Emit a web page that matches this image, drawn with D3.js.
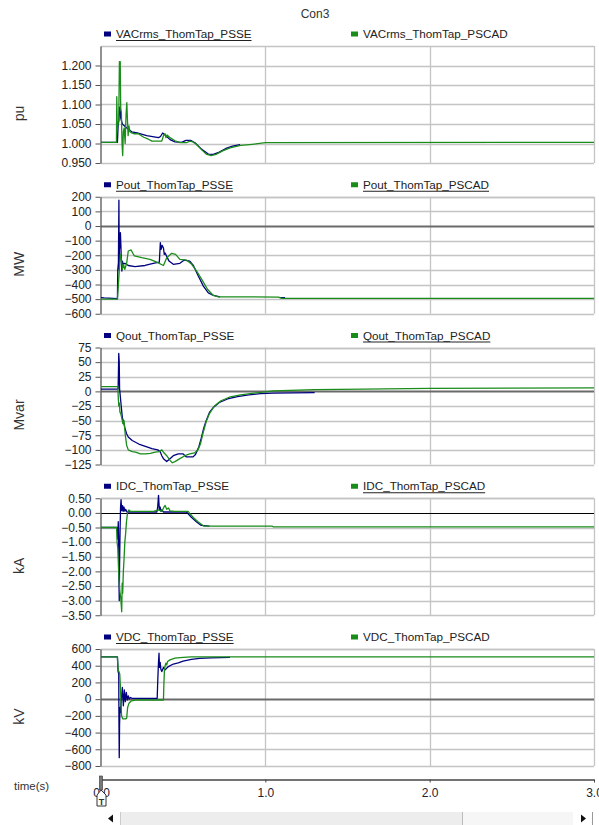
<!DOCTYPE html>
<html>
<head>
<meta charset="utf-8">
<script src="https://cdn.jsdelivr.net/npm/d3@7"></script>
<style>
  body { margin: 0; background: #fff; }
  svg { display: block; font-family: "Liberation Sans", Arial, sans-serif; }
</style>
</head>
<body>
<svg id="chart" width="599" height="825"></svg>
<script>
// ---- time axis ----
const timeTicks = [0, 1, 2, 3];

// ---- VACrms (pu) ----
const vacTicks = [0.95, 1.0, 1.05, 1.1, 1.15, 1.2];
const vacPSSE = [[0,1.003],[0.1,1.003],[0.104,1.045],[0.109,1.06],[0.113,1.093],[0.117,1.085],[0.12,1.065],[0.13,1.05],[0.157,1.04],[0.187,1.03],[0.22,1.027],[0.278,1.02],[0.35,1.015],[0.362,1.018],[0.375,1.027],[0.395,1.02],[0.42,1.01],[0.45,1.004],[0.49,1.003],[0.517,1.008],[0.545,1.008],[0.572,1.002],[0.613,0.985],[0.653,0.973],[0.684,0.972],[0.72,0.978],[0.765,0.988],[0.8,0.993],[0.846,0.997]];
const vacPSCAD = [[0,1.003],[0.094,1.003],[0.096,1.12],[0.099,1.04],[0.104,1.05],[0.108,1.06],[0.112,1.21],[0.117,1.21],[0.12,1.09],[0.124,1.08],[0.128,1.0],[0.132,0.969],[0.136,1.03],[0.141,1.04],[0.147,1.0],[0.152,1.07],[0.157,1.105],[0.161,1.06],[0.165,1.02],[0.17,1.045],[0.176,1.03],[0.186,1.027],[0.2,1.025],[0.227,1.025],[0.26,1.016],[0.288,1.011],[0.31,1.006],[0.37,1.006],[0.38,1.02],[0.39,1.025],[0.395,1.015],[0.402,1.022],[0.42,1.015],[0.45,1.007],[0.48,1.002],[0.52,1.002],[0.54,1.006],[0.56,1.004],[0.58,0.998],[0.61,0.985],[0.64,0.973],[0.67,0.969],[0.7,0.972],[0.74,0.981],[0.785,0.989],[0.85,0.995],[0.92,0.998],[1.0,1.002],[3.0,1.003]];

// ---- Pout (MW) ----
const poutTicks = [-600, -500, -400, -300, -200, -100, 0, 100, 200];
const poutPSSE = [[0,-490],[0.02,-492],[0.1,-497],[0.102,-300],[0.106,-250],[0.109,176],[0.111,-300],[0.113,-60],[0.116,-150],[0.118,-45],[0.121,-130],[0.124,-245],[0.127,-308],[0.13,-240],[0.136,-262],[0.145,-255],[0.166,-270],[0.207,-278],[0.268,-270],[0.318,-255],[0.355,-247],[0.361,-114],[0.366,-160],[0.372,-132],[0.38,-150],[0.385,-194],[0.39,-185],[0.414,-240],[0.44,-262],[0.48,-255],[0.507,-233],[0.54,-240],[0.562,-270],[0.592,-342],[0.623,-411],[0.653,-457],[0.684,-475],[0.724,-484],[0.73,null],[1.09,-490],[1.12,-490]];
const poutPSCAD = [[0,-500],[0.1,-500],[0.104,-434],[0.111,-308],[0.118,-194],[0.124,-228],[0.13,-297],[0.137,-262],[0.145,-297],[0.156,-255],[0.166,-171],[0.183,-164],[0.203,-205],[0.248,-217],[0.298,-228],[0.339,-247],[0.38,-270],[0.4,-217],[0.43,-187],[0.454,-194],[0.48,-228],[0.52,-233],[0.552,-262],[0.582,-308],[0.613,-365],[0.649,-434],[0.684,-475],[0.714,-484],[1.08,-486],[1.1,-495],[3.0,-495]];

// ---- Qout (Mvar) ----
const qoutTicks = [-125, -100, -75, -50, -25, 0, 25, 50, 75];
const qoutPSSE = [[0,4],[0.104,4],[0.106,30],[0.108,65],[0.111,50],[0.113,5],[0.118,-10],[0.124,-28],[0.13,-45],[0.137,-52],[0.145,-62],[0.155,-72],[0.166,-78],[0.19,-84],[0.23,-90],[0.27,-94],[0.31,-98],[0.345,-100],[0.36,-103],[0.37,-110],[0.38,-115],[0.4,-120],[0.42,-115],[0.44,-110],[0.47,-107],[0.5,-107],[0.52,-112],[0.56,-112],[0.575,-108],[0.595,-95],[0.61,-80],[0.625,-63],[0.64,-50],[0.66,-36],[0.685,-27],[0.72,-19],[0.77,-13],[0.83,-9],[0.9,-6],[0.97,-4],[1.05,-3],[1.3,-2]];
const qoutPSCAD = [[0,8],[0.102,8],[0.105,-10],[0.108,-25],[0.112,-20],[0.115,-35],[0.12,-38],[0.126,-45],[0.133,-55],[0.14,-50],[0.148,-75],[0.156,-92],[0.166,-100],[0.19,-103],[0.21,-104],[0.24,-107],[0.27,-107],[0.3,-106],[0.33,-104],[0.355,-103],[0.37,-100],[0.38,-104],[0.4,-110],[0.42,-118],[0.434,-122],[0.45,-120],[0.48,-115],[0.51,-110],[0.54,-107],[0.57,-105],[0.59,-100],[0.605,-90],[0.62,-72],[0.64,-52],[0.66,-38],[0.69,-25],[0.73,-16],[0.78,-10],[0.85,-6],[0.93,-3],[1.0,-1],[1.05,1],[1.3,3],[1.6,4],[2.0,5],[3.0,6]];

// ---- IDC (kA) ----
const idcTicks = [-3.5, -3.0, -2.5, -2.0, -1.5, -1.0, -0.5, 0, 0.5];
const idcPSSE = [[0,-0.5],[0.098,-0.5],[0.102,-0.9],[0.105,-0.3],[0.107,-0.8],[0.109,-2.2],[0.111,-3.0],[0.113,-1.8],[0.116,-0.6],[0.119,0.2],[0.122,0.45],[0.126,0.08],[0.131,0.25],[0.135,0.05],[0.14,0.2],[0.145,0.06],[0.15,0.12],[0.158,0.03],[0.34,0.03],[0.345,0.2],[0.35,0.6],[0.355,0.1],[0.36,0.2],[0.365,0.05],[0.37,0.1],[0.38,0.03],[0.52,0.03],[0.55,-0.15],[0.58,-0.3],[0.61,-0.43],[0.66,-0.45]];
const idcPSCAD = [[0,-0.5],[0.095,-0.5],[0.098,-1.0],[0.102,-1.2],[0.106,-1.8],[0.11,-2.3],[0.115,-2.7],[0.12,-2.9],[0.126,-3.38],[0.129,-2.4],[0.132,-2.75],[0.136,-2.0],[0.14,-1.6],[0.145,-1.0],[0.15,-0.7],[0.155,-0.3],[0.162,0.03],[0.17,0.1],[0.18,0.05],[0.32,0.05],[0.35,0.1],[0.37,0.05],[0.385,0.22],[0.39,0.25],[0.4,0.12],[0.41,0.17],[0.42,0.07],[0.45,0.05],[0.53,0.05],[0.56,-0.15],[0.59,-0.3],[0.625,-0.45],[1.04,-0.45],[1.05,-0.48],[3.0,-0.48]];

// ---- VDC (kV) ----
const vdcTicks = [-800, -600, -400, -200, 0, 200, 400, 600];
const vdcPSSE = [[0,505],[0.1,505],[0.104,330],[0.108,300],[0.109,-200],[0.111,-700],[0.113,-300],[0.116,-100],[0.119,-160],[0.122,-50],[0.13,140],[0.136,-80],[0.142,110],[0.148,-30],[0.154,80],[0.16,-10],[0.166,40],[0.172,0],[0.18,20],[0.19,8],[0.25,8],[0.3,8],[0.342,10],[0.345,200],[0.35,450],[0.353,550],[0.356,380],[0.36,440],[0.364,360],[0.37,330],[0.38,380],[0.39,350],[0.41,390],[0.44,420],[0.47,435],[0.5,455],[0.55,475],[0.6,488],[0.67,495],[0.785,500]];
const vdcPSCAD = [[0,505],[0.1,505],[0.104,350],[0.109,330],[0.114,300],[0.118,150],[0.121,0],[0.125,-200],[0.132,-235],[0.15,-235],[0.156,-230],[0.162,-100],[0.17,-50],[0.185,-20],[0.217,-8],[0.26,-10],[0.3,-10],[0.38,-10],[0.383,200],[0.386,350],[0.39,400],[0.395,430],[0.4,410],[0.405,450],[0.42,470],[0.45,490],[0.5,500],[0.55,505],[3.0,505]];

const psseColor = "#000080";
const pscadColor = "#1a8c1a";

// panel configuration built from the arrays above
const panels = [
  { unit: "pu",   domain: [0.95, 1.25], ticks: vacTicks,  fmt: d3.format(".3f"), zero: null,
    a: { name: "VACrms_ThomTap_PSSE", data: vacPSSE, u: true },  b: { name: "VACrms_ThomTap_PSCAD", data: vacPSCAD, u: false } },
  { unit: "MW",   domain: [-600, 200],  ticks: poutTicks, fmt: d3.format("d"),   zero: "thick",
    a: { name: "Pout_ThomTap_PSSE", data: poutPSSE, u: true },   b: { name: "Pout_ThomTap_PSCAD", data: poutPSCAD, u: true } },
  { unit: "Mvar", domain: [-125, 75],   ticks: qoutTicks, fmt: d3.format("d"),   zero: "thick",
    a: { name: "Qout_ThomTap_PSSE", data: qoutPSSE, u: false },  b: { name: "Qout_ThomTap_PSCAD", data: qoutPSCAD, u: true } },
  { unit: "kA",   domain: [-3.5, 0.5],  ticks: idcTicks,  fmt: d3.format(".2f"), zero: "thin",
    a: { name: "IDC_ThomTap_PSSE", data: idcPSSE, u: false },    b: { name: "IDC_ThomTap_PSCAD", data: idcPSCAD, u: true } },
  { unit: "kV",   domain: [-800, 600],  ticks: vdcTicks,  fmt: d3.format("d"),   zero: "thick",
    a: { name: "VDC_ThomTap_PSSE", data: vdcPSSE, u: true },     b: { name: "VDC_ThomTap_PSCAD", data: vdcPSCAD, u: false } }
];

const svg = d3.select("#chart");
const x = d3.scaleLinear().domain([0, 3]).range([101, 594]);
const plotH = 117, firstTop = 46, step = 150.75;

svg.append("text").attr("x", 315).attr("y", 18).attr("text-anchor", "middle")
  .attr("font-size", 12).attr("fill", "#333").text("Con3");

panels.forEach((p, i) => {
  const top = firstTop + i * step;
  const y = d3.scaleLinear().domain(p.domain).range([top + plotH, top]);
  const g = svg.append("g");

  // horizontal grid
  g.selectAll("line.h").data(p.ticks.filter(t => !(p.zero && t === 0))).join("line")
    .attr("x1", x(0)).attr("x2", x(3))
    .attr("y1", d => Math.round(y(d)) + 0.5).attr("y2", d => Math.round(y(d)) + 0.5)
    .attr("stroke", "#c4c4c4").attr("stroke-width", 1.3);
  // frame top and vertical grid
  g.append("line").attr("x1", x(0)).attr("x2", x(3))
    .attr("y1", Math.round(top) + 0.5).attr("y2", Math.round(top) + 0.5)
    .attr("stroke", "#c4c4c4").attr("stroke-width", 1.3);
  g.selectAll("line.v").data([1, 2, 3]).join("line")
    .attr("x1", d => Math.round(x(d)) + 0.5).attr("x2", d => Math.round(x(d)) + 0.5)
    .attr("y1", top).attr("y2", top + plotH)
    .attr("stroke", "#c4c4c4").attr("stroke-width", 1.3);
  // zero line
  if (p.zero) {
    g.append("line").attr("x1", x(0)).attr("x2", x(3))
      .attr("y1", Math.round(y(0)) + 0.5).attr("y2", Math.round(y(0)) + 0.5)
      .attr("stroke", p.zero === "thick" ? "#6a6a6a" : "#000")
      .attr("stroke-width", p.zero === "thick" ? 2 : 1.2);
  }

  // left axis
  const ax = g.append("g").attr("transform", "translate(100.5,0)")
    .call(d3.axisLeft(y).tickValues(p.ticks).tickFormat(p.fmt).tickSize(5).tickSizeOuter(0).tickPadding(4));
  ax.select(".domain").attr("stroke", "#555").attr("stroke-width", 1.3);
  ax.selectAll(".tick line").attr("stroke", "#555");
  ax.selectAll(".tick text").attr("font-size", 12).attr("fill", "#222")
    .attr("font-family", "'Liberation Sans', Arial, sans-serif");

  // unit label
  svg.append("text").attr("transform", `translate(24,${top + plotH / 2 + 9}) rotate(-90)`)
    .attr("text-anchor", "middle").attr("font-size", 14).attr("fill", "#333").text(p.unit);

  // series
  const line = d3.line().defined(d => d[1] !== null).x(d => x(d[0])).y(d => y(d[1]));
  g.append("path").datum(p.a.data).attr("d", line).attr("fill", "none")
    .attr("stroke", psseColor).attr("stroke-width", 1.3).attr("stroke-linejoin", "round");
  g.append("path").datum(p.b.data).attr("d", line).attr("fill", "none")
    .attr("stroke", pscadColor).attr("stroke-width", 1.3).attr("stroke-linejoin", "round");

  // legend
  const ly = top - 12;
  [[p.a, psseColor, 104], [p.b, pscadColor, 351]].forEach(([s, c, lx]) => {
    svg.append("rect").attr("x", lx).attr("y", ly - 2.5).attr("width", 7).attr("height", 5).attr("fill", c);
    const t = svg.append("text").attr("x", lx + 12).attr("y", ly + 4)
      .attr("font-size", 11.7).attr("fill", "#222").text(s.name);
    if (s.u) {
      const w = t.node().getComputedTextLength();
      svg.append("line").attr("x1", lx + 12).attr("x2", lx + 12 + w)
        .attr("y1", ly + 6.5).attr("y2", ly + 6.5).attr("stroke", "#222").attr("stroke-width", 1);
    }
  });
});

// time axis
const tg = svg.append("g").attr("transform", "translate(0,779.5)")
  .call(d3.axisBottom(x).tickValues(timeTicks).tickFormat(d3.format(".1f")).tickSize(3).tickSizeOuter(0).tickPadding(6));
tg.select(".domain").attr("stroke", "#444").attr("stroke-width", 1.3);
tg.selectAll(".tick line").attr("stroke", "#444");
tg.selectAll(".tick text").attr("font-size", 12).attr("fill", "#223")
  .attr("font-family", "'Liberation Sans', Arial, sans-serif");
svg.append("text").attr("x", 14).attr("y", 790).attr("font-size", 11.5).attr("fill", "#333").text("time(s)");

// time cursor marker
svg.append("rect").attr("x", 99.5).attr("y", 776).attr("width", 3).attr("height", 14)
  .attr("fill", "#777").attr("stroke", "#333").attr("stroke-width", 0.6);
svg.append("path").attr("d", "M101,790 L97,795 L97,806 L106,806 L106,795 Z")
  .attr("fill", "#fff").attr("stroke", "#333").attr("stroke-width", 1);
svg.append("text").attr("x", 101.5).attr("y", 804.5).attr("text-anchor", "middle")
  .attr("font-size", 9).attr("font-weight", "bold").attr("fill", "#333").text("T");

// scroll bar
svg.append("rect").attr("x", 121).attr("y", 812).attr("width", 452).attr("height", 13).attr("fill", "#ededed");
svg.append("rect").attr("x", 462).attr("y", 812).attr("width", 111).attr("height", 13).attr("fill", "#f6f6f6");
svg.append("line").attr("x1", 462.5).attr("x2", 462.5).attr("y1", 812).attr("y2", 825).attr("stroke", "#bbb");
svg.append("line").attr("x1", 120.5).attr("x2", 120.5).attr("y1", 812).attr("y2", 825).attr("stroke", "#ccc");
svg.append("path").attr("d", "M108,818.5 L113,814.5 L113,822.5 Z").attr("fill", "#111");
svg.append("path").attr("d", "M586,818.5 L581,814.5 L581,822.5 Z").attr("fill", "#111");
svg.append("line").attr("x1", 592.5).attr("x2", 592.5).attr("y1", 812).attr("y2", 825).attr("stroke", "#999");
</script>
</body>
</html>
